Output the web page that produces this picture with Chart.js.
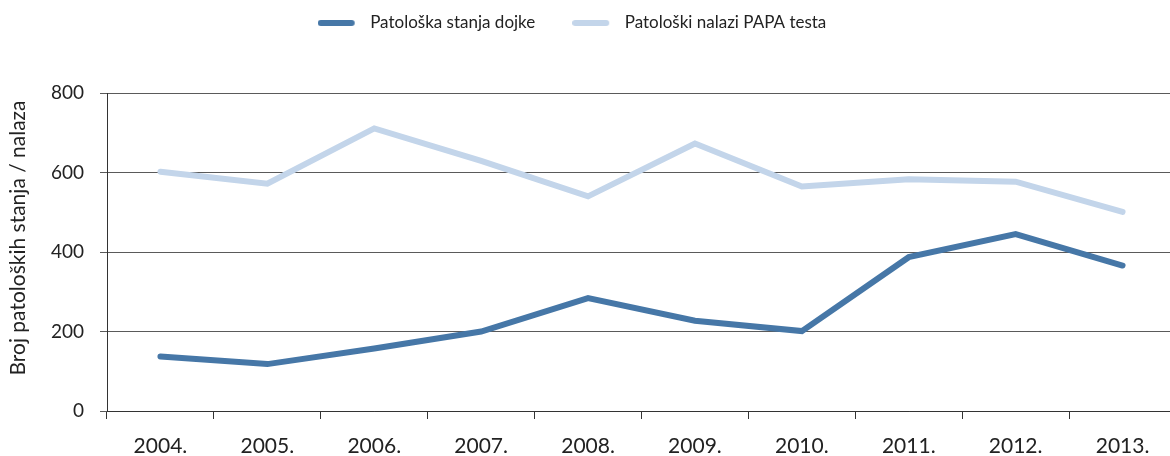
<!DOCTYPE html>
<html>
<head>
<meta charset="utf-8">
<script src="https://cdn.jsdelivr.net/npm/chart.js@4/dist/chart.umd.min.js"></script>
<style>
  html, body { margin: 0; padding: 0; background: #fff; overflow: hidden; }
  #wrap { width: 1170px; height: 456px; overflow: hidden; }
</style>
</head>
<body>
<div id="wrap"><canvas id="c" width="1176" height="456"></canvas></div>
<script>
// Years on the x axis
const years = ['2004.', '2005.', '2006.', '2007.', '2008.', '2009.', '2010.', '2011.', '2012.', '2013.'];
// Pathological breast findings per year
const breastFindings = [137, 118, 157, 200, 284, 227, 201, 387, 445, 366];
// Pathological PAP test findings per year
const papFindings = [602, 572, 711, 629, 540, 673, 565, 583, 577, 501];
// Y axis tick values
const yTicks = [0, 200, 400, 600, 800];

const seriesNames = ['Patološka stanja dojke', 'Patološki nalazi PAPA testa'];
const seriesColors = ['#4677a7', '#c3d5ea'];
const FONT = 'Lato, "Open Sans", sans-serif';
const AXIS = '#333';
const GRID = '#5a5a5a';

// Legend swatch: a short rounded stroke, left-aligned inside a wider slot
const SWATCH_SLOT = 44, SWATCH_LEN = 37, SWATCH_W = 6;
function makeSwatch(color) {
  const cv = document.createElement('canvas');
  cv.width = SWATCH_SLOT;
  cv.height = 10;
  const g = cv.getContext('2d');
  g.strokeStyle = color;
  g.lineWidth = SWATCH_W;
  g.lineCap = 'round';
  g.beginPath();
  g.moveTo(SWATCH_W / 2, 5);
  g.lineTo(SWATCH_LEN - SWATCH_W / 2, 5);
  g.stroke();
  return cv;
}
const swatches = seriesColors.map(makeSwatch);

// Legend band: fixed height above the plot, row placed at a given centre line,
// block shifted sideways; the y axis title is nudged upward.
const frame = {
  id: 'frame',
  beforeLayout(chart, args, opts) {
    const lg = chart.legend;
    if (lg && !lg._fixedFit) {
      const fit = lg.fit;
      lg.fit = function () { fit.apply(this, arguments); this.height = opts.legendHeight; };
      lg._fixedFit = true;
    }
  },
  afterLayout(chart, args, opts) {
    const lg = chart.legend;
    if (lg) {
      const lo = lg.options.labels;
      const fs = lo.font.size;
      const itemH = Math.max(fs, lo.boxHeight);
      lg.top = opts.legendCenterY - lo.padding - itemH / 2;
      lg.left += opts.legendDx;
      lg.right += opts.legendDx;
    }
    const ys = chart.scales.y;
    if (ys && !ys._titleShift) {
      const dt = ys.drawTitle;
      ys.drawTitle = function () {
        const c = this.ctx;
        c.save();
        c.translate(0, opts.titleDy);
        dt.apply(this, arguments);
        c.restore();
      };
      ys._titleShift = true;
    }
  }
};

new Chart(document.getElementById('c'), {
  type: 'line',
  data: {
    labels: years,
    datasets: [
      { label: seriesNames[0], data: breastFindings },
      { label: seriesNames[1], data: papFindings }
    ].map((d, i) => Object.assign(d, {
      borderColor: seriesColors[i],
      backgroundColor: seriesColors[i],
      borderWidth: 6,
      borderCapStyle: 'round',
      borderJoinStyle: 'miter',
      pointRadius: 0,
      tension: 0,
      fill: false
    }))
  },
  plugins: [frame],
  options: {
    responsive: false,
    animation: false,
    layout: { padding: { left: 0, right: 0, top: 0, bottom: 0 } },
    plugins: {
      frame: { legendHeight: 93, legendCenterY: 23, legendDx: -16, titleDy: -14 },
      tooltip: { enabled: false },
      legend: {
        position: 'top',
        align: 'center',
        labels: {
          font: { family: FONT, size: 17 },
          color: '#222',
          usePointStyle: true,
          pointStyleWidth: SWATCH_SLOT,
          boxHeight: 10,
          padding: 37,
          generateLabels(chart) {
            return chart.data.datasets.map((ds, i) => ({
              text: ds.label,
              fillStyle: ds.borderColor,
              strokeStyle: ds.borderColor,
              lineWidth: 0,
              pointStyle: swatches[i],
              fontColor: '#222',
              hidden: false,
              datasetIndex: i
            }));
          }
        }
      }
    },
    scales: {
      x: {
        offset: true,
        grid: {
          offset: true,
          drawOnChartArea: false,
          drawTicks: true,
          tickLength: 8,
          color: AXIS
        },
        border: { display: true, color: AXIS, width: 1 },
        ticks: {
          font: { family: FONT, size: 21 },
          color: '#222',
          padding: 15,
          maxRotation: 0,
          autoSkip: false
        },
        afterFit(scale) { scale.height = 45; }
      },
      y: {
        min: 0,
        max: 800,
        afterBuildTicks(scale) { scale.ticks = yTicks.map(v => ({ value: v })); },
        grid: {
          color: GRID,
          lineWidth: 1,
          drawTicks: true,
          tickLength: 7
        },
        border: { display: true, color: AXIS, width: 1 },
        ticks: {
          font: { family: FONT, size: 19 },
          color: '#222',
          padding: 16
        },
        title: {
          display: true,
          text: 'Broj patoloških stanja / nalaza',
          font: { family: FONT, size: 21 },
          color: '#222',
          padding: { top: 6, bottom: 10 }
        },
        afterFit(scale) { scale.width = 107; }
      }
    }
  }
});
</script>
</body>
</html>
